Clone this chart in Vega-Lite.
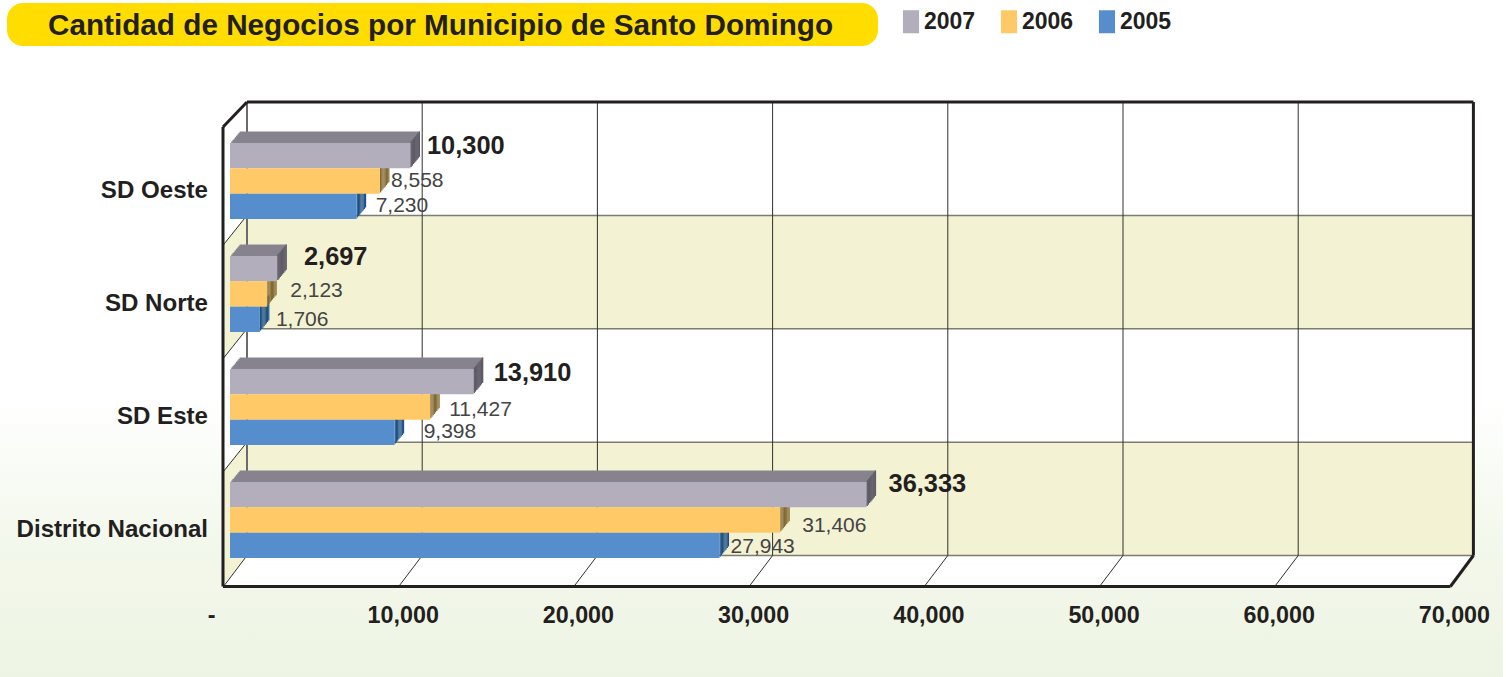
{
"$schema":"https://vega.github.io/schema/vega-lite/v6.json",
"width":1506,"height":677,"padding":0,"autosize":{"type":"none"},"background":"white",
"title":{"text":"Cantidad de Negocios por Municipio de Santo Domingo","anchor":"start","frame":"group","font":"Liberation Sans","fontWeight":"bold","fontSize":29.7,"color":"#231f20","dx":48,"dy":42,"offset":0,"zindex":1},
"config":{"view":{"stroke":null},"font":"Liberation Sans"},
"datasets":{
"bars":[
{"region":"SD Oeste","year":"2007","value":10300},{"region":"SD Oeste","year":"2006","value":8558},{"region":"SD Oeste","year":"2005","value":7230},
{"region":"SD Norte","year":"2007","value":2697},{"region":"SD Norte","year":"2006","value":2123},{"region":"SD Norte","year":"2005","value":1706},
{"region":"SD Este","year":"2007","value":13910},{"region":"SD Este","year":"2006","value":11427},{"region":"SD Este","year":"2005","value":9398},
{"region":"Distrito Nacional","year":"2007","value":36333},{"region":"Distrito Nacional","year":"2006","value":31406},{"region":"Distrito Nacional","year":"2005","value":27943}],
"rows":[{"row":0,"top":1},{"row":1,"top":2},{"row":2,"top":3},{"row":3,"top":4}],
"ticks":[{"tick":0},{"tick":10000},{"tick":20000},{"tick":30000},{"tick":40000},{"tick":50000},{"tick":60000},{"tick":70000}],
"one":[{}]
},
"resolve":{"scale":{"y":"independent"},"axis":{"x":"independent","y":"independent"}},
"layer":[
{"resolve":{"axis":{"x":"independent"}},"layer":[
{"data":{"name":"one"},"mark":{"type":"rect","color":{"gradient":"linear","x1":0,"y1":0,"x2":0,"y2":1,"stops":[{"offset":0,"color":"#ffffff"},{"offset":0.5,"color":"#f3f8ec"},{"offset":1,"color":"#eef4e3"}]}},
 "encoding":{"x":{"datum":-13128,"type":"quantitative","scale":{"domain":[-13128,72831],"range":[0,1506],"nice":false,"zero":false},"axis":null},"x2":{"datum":72660},"y":{"datum":1.37,"type":"quantitative","scale":{"domain":[0,4],"range":[555.5,102],"nice":false,"zero":false},"axis":null},"y2":{"datum":-1.072}}},
{"data":{"name":"one"},"mark":{"type":"rect","color":"#ffdd00","cornerRadius":16},"encoding":{"x":{"datum":-12728,"type":"quantitative","axis":null},"x2":{"datum":36986},"y":{"datum":4.873,"type":"quantitative","axis":null},"y2":{"datum":4.494}}},
{"data":{"name":"rows"},"mark":{"type":"rect","xOffset":17,"x2Offset":17},"encoding":{"x":{"datum":0,"type":"quantitative","axis":null},"x2":{"datum":70000},"y":{"field":"row","type":"quantitative","axis":null},"y2":{"field":"top"},"color":{"condition":{"test":"datum.row==0||datum.row==2","value":"#f3f2d3"},"value":"#ffffff"}}},
{"data":{"name":"rows"},"mark":{"type":"rect","xOffset":-7,"x2Offset":-4,"yOffset":28.1,"y2Offset":28.1},"encoding":{"x":{"datum":0,"type":"quantitative","axis":null},"x2":{"datum":0},"y":{"field":"row","type":"quantitative","axis":null},"y2":{"field":"top"},"color":{"condition":{"test":"datum.row==0||datum.row==2","value":"#f3f2d3"},"value":"#ffffff"}}},
{"data":{"name":"rows"},"mark":{"type":"rect","xOffset":-4,"x2Offset":-1,"yOffset":24.4,"y2Offset":24.4},"encoding":{"x":{"datum":0,"type":"quantitative","axis":null},"x2":{"datum":0},"y":{"field":"row","type":"quantitative","axis":null},"y2":{"field":"top"},"color":{"condition":{"test":"datum.row==0||datum.row==2","value":"#f3f2d3"},"value":"#ffffff"}}},
{"data":{"name":"rows"},"mark":{"type":"rect","xOffset":-1,"x2Offset":2,"yOffset":20.6,"y2Offset":20.6},"encoding":{"x":{"datum":0,"type":"quantitative","axis":null},"x2":{"datum":0},"y":{"field":"row","type":"quantitative","axis":null},"y2":{"field":"top"},"color":{"condition":{"test":"datum.row==0||datum.row==2","value":"#f3f2d3"},"value":"#ffffff"}}},
{"data":{"name":"rows"},"mark":{"type":"rect","xOffset":2,"x2Offset":5,"yOffset":16.9,"y2Offset":16.9},"encoding":{"x":{"datum":0,"type":"quantitative","axis":null},"x2":{"datum":0},"y":{"field":"row","type":"quantitative","axis":null},"y2":{"field":"top"},"color":{"condition":{"test":"datum.row==0||datum.row==2","value":"#f3f2d3"},"value":"#ffffff"}}},
{"data":{"name":"rows"},"mark":{"type":"rect","xOffset":5,"x2Offset":8,"yOffset":13.1,"y2Offset":13.1},"encoding":{"x":{"datum":0,"type":"quantitative","axis":null},"x2":{"datum":0},"y":{"field":"row","type":"quantitative","axis":null},"y2":{"field":"top"},"color":{"condition":{"test":"datum.row==0||datum.row==2","value":"#f3f2d3"},"value":"#ffffff"}}},
{"data":{"name":"rows"},"mark":{"type":"rect","xOffset":8,"x2Offset":11,"yOffset":9.4,"y2Offset":9.4},"encoding":{"x":{"datum":0,"type":"quantitative","axis":null},"x2":{"datum":0},"y":{"field":"row","type":"quantitative","axis":null},"y2":{"field":"top"},"color":{"condition":{"test":"datum.row==0||datum.row==2","value":"#f3f2d3"},"value":"#ffffff"}}},
{"data":{"name":"rows"},"mark":{"type":"rect","xOffset":11,"x2Offset":14,"yOffset":5.6,"y2Offset":5.6},"encoding":{"x":{"datum":0,"type":"quantitative","axis":null},"x2":{"datum":0},"y":{"field":"row","type":"quantitative","axis":null},"y2":{"field":"top"},"color":{"condition":{"test":"datum.row==0||datum.row==2","value":"#f3f2d3"},"value":"#ffffff"}}},
{"data":{"name":"rows"},"mark":{"type":"rect","xOffset":14,"x2Offset":17,"yOffset":1.9,"y2Offset":1.9},"encoding":{"x":{"datum":0,"type":"quantitative","axis":null},"x2":{"datum":0},"y":{"field":"row","type":"quantitative","axis":null},"y2":{"field":"top"},"color":{"condition":{"test":"datum.row==0||datum.row==2","value":"#f3f2d3"},"value":"#ffffff"}}},
{"data":{"name":"one"},"mark":{"type":"rect","color":"#ffffff","xOffset":15.5,"x2Offset":15.5,"yOffset":0,"y2Offset":3.9},"encoding":{"x":{"datum":0,"type":"quantitative","axis":null},"x2":{"datum":70000},"y":{"datum":0,"type":"quantitative","axis":null},"y2":{"datum":0}}},
{"data":{"name":"one"},"mark":{"type":"rect","color":"#ffffff","xOffset":12.6,"x2Offset":12.6,"yOffset":3.9,"y2Offset":7.8},"encoding":{"x":{"datum":0,"type":"quantitative","axis":null},"x2":{"datum":70000},"y":{"datum":0,"type":"quantitative","axis":null},"y2":{"datum":0}}},
{"data":{"name":"one"},"mark":{"type":"rect","color":"#ffffff","xOffset":9.7,"x2Offset":9.7,"yOffset":7.8,"y2Offset":11.6},"encoding":{"x":{"datum":0,"type":"quantitative","axis":null},"x2":{"datum":70000},"y":{"datum":0,"type":"quantitative","axis":null},"y2":{"datum":0}}},
{"data":{"name":"one"},"mark":{"type":"rect","color":"#ffffff","xOffset":6.7,"x2Offset":6.7,"yOffset":11.6,"y2Offset":15.5},"encoding":{"x":{"datum":0,"type":"quantitative","axis":null},"x2":{"datum":70000},"y":{"datum":0,"type":"quantitative","axis":null},"y2":{"datum":0}}},
{"data":{"name":"one"},"mark":{"type":"rect","color":"#ffffff","xOffset":3.8,"x2Offset":3.8,"yOffset":15.5,"y2Offset":19.4},"encoding":{"x":{"datum":0,"type":"quantitative","axis":null},"x2":{"datum":70000},"y":{"datum":0,"type":"quantitative","axis":null},"y2":{"datum":0}}},
{"data":{"name":"one"},"mark":{"type":"rect","color":"#ffffff","xOffset":0.9,"x2Offset":0.9,"yOffset":19.4,"y2Offset":23.3},"encoding":{"x":{"datum":0,"type":"quantitative","axis":null},"x2":{"datum":70000},"y":{"datum":0,"type":"quantitative","axis":null},"y2":{"datum":0}}},
{"data":{"name":"one"},"mark":{"type":"rect","color":"#ffffff","xOffset":-2.1,"x2Offset":-2.1,"yOffset":23.3,"y2Offset":27.1},"encoding":{"x":{"datum":0,"type":"quantitative","axis":null},"x2":{"datum":70000},"y":{"datum":0,"type":"quantitative","axis":null},"y2":{"datum":0}}},
{"data":{"name":"one"},"mark":{"type":"rect","color":"#ffffff","xOffset":-5,"x2Offset":-5,"yOffset":27.1,"y2Offset":31},"encoding":{"x":{"datum":0,"type":"quantitative","axis":null},"x2":{"datum":70000},"y":{"datum":0,"type":"quantitative","axis":null},"y2":{"datum":0}}},
{"data":{"name":"rows"},"mark":{"type":"rule","color":"#7d7c72","strokeWidth":1.5,"xOffset":17,"x2Offset":17},"encoding":{"x":{"datum":0,"type":"quantitative","axis":null},"x2":{"datum":70000},"y":{"field":"row","type":"quantitative","axis":null}}},
{"data":{"name":"ticks"},"mark":{"type":"rule","color":"#33302f","strokeWidth":1,"xOffset":17},"encoding":{"x":{"field":"tick","type":"quantitative","axis":{"values":[0,10000,20000,30000,40000,50000,60000,70000],"orient":"bottom","offset":-73,"title":null,"domain":false,"ticks":false,"grid":false,"labelFont":"Liberation Sans","labelFontWeight":"bold","labelFontSize":23.3,"labelColor":"#231f20","labelPadding":0,"labelOffset":{"condition":{"test":"datum.value==0","value":-19},"value":-2.5},"labelOverlap":false,"labelFlush":false,"labelBaseline":"top","zindex":1,"labelExpr":"datum.value==0?'-':format(datum.value,',')"}},"y":{"datum":0,"type":"quantitative","axis":null},"y2":{"datum":4}}},
{"data":{"name":"one"},"mark":{"type":"rule","color":"#6b6b6b","strokeWidth":2,"xOffset":17},"encoding":{"x":{"datum":0,"type":"quantitative","axis":null},"y":{"datum":0,"type":"quantitative","axis":null},"y2":{"datum":4}}},
{"data":{"name":"ticks"},"mark":{"type":"rule","color":"#33302f","strokeWidth":1,"xOffset":-6.5,"x2Offset":17,"yOffset":31,"y2Offset":0},"encoding":{"x":{"field":"tick","type":"quantitative","axis":null},"x2":{"field":"tick"},"y":{"datum":0,"type":"quantitative","axis":null},"y2":{"datum":0}}},
{"data":{"name":"rows"},"mark":{"type":"rule","color":"#33302f","strokeWidth":1,"xOffset":-7,"x2Offset":17,"yOffset":30,"y2Offset":0},"transform":[{"filter":"datum.row>0"}],"encoding":{"x":{"datum":0,"type":"quantitative","axis":null},"x2":{"datum":0},"y":{"field":"row","type":"quantitative","axis":null},"y2":{"field":"row"}}},
{"data":{"name":"one"},"mark":{"type":"rule","color":"#231f20","strokeWidth":3,"xOffset":-7,"x2Offset":17,"yOffset":25,"y2Offset":0},"encoding":{"x":{"datum":0,"type":"quantitative","axis":null},"x2":{"datum":0},"y":{"datum":4,"type":"quantitative","axis":null},"y2":{"datum":4}}},
{"data":{"name":"one"},"mark":{"type":"rule","color":"#231f20","strokeWidth":3,"xOffset":-7,"yOffset":25,"y2Offset":31},"encoding":{"x":{"datum":0,"type":"quantitative","axis":null},"y":{"datum":4,"type":"quantitative","axis":null},"y2":{"datum":0}}},
{"data":{"name":"one"},"mark":{"type":"rule","color":"#231f20","strokeWidth":3,"xOffset":-7,"x2Offset":-6,"yOffset":31,"y2Offset":31},"encoding":{"x":{"datum":0,"type":"quantitative","axis":null},"x2":{"datum":70000},"y":{"datum":0,"type":"quantitative","axis":null},"y2":{"datum":0}}},
{"data":{"name":"one"},"mark":{"type":"rule","color":"#231f20","strokeWidth":3,"xOffset":17,"x2Offset":17},"encoding":{"x":{"datum":0,"type":"quantitative","axis":null},"x2":{"datum":70000},"y":{"datum":4,"type":"quantitative","axis":null},"y2":{"datum":4}}},
{"data":{"name":"one"},"mark":{"type":"rule","color":"#231f20","strokeWidth":3,"xOffset":17},"encoding":{"x":{"datum":70000,"type":"quantitative","axis":null},"y":{"datum":0,"type":"quantitative","axis":null},"y2":{"datum":4}}},
{"data":{"name":"one"},"mark":{"type":"rule","color":"#231f20","strokeWidth":3,"xOffset":-6,"x2Offset":17,"yOffset":31,"y2Offset":0},"encoding":{"x":{"datum":70000,"type":"quantitative","axis":null},"x2":{"datum":70000},"y":{"datum":0,"type":"quantitative","axis":null},"y2":{"datum":0}}}
]},
{"data":{"name":"bars"},
 "resolve":{"scale":{"y":"independent"},"axis":{"y":"independent","x":"independent"}},
 "encoding":{
  "y":{"field":"region","type":"nominal","sort":null,"scale":{"domain":["SD Oeste","SD Norte","SD Este","Distrito Nacional"],"range":[124.5,576.5],"paddingInner":0,"paddingOuter":0},"axis":null},
  "yOffset":{"field":"year","type":"nominal","sort":null,"scale":{"domain":["2007","2006","2005"],"range":[0,113],"paddingInner":0,"paddingOuter":0.73}}
 },
 "layer":[
 {"transform":[{"filter":"datum.year=='2007'"}],"mark":{"type":"bar","color":"#87838e","xOffset":9.5,"x2Offset":9.5},"encoding":{"y":{"field":"region","type":"nominal","sort":null,"scale":{"domain":["SD Oeste","SD Norte","SD Este","Distrito Nacional"],"range":[113,565],"paddingInner":0,"paddingOuter":0},"axis":null},"x":{"field":"value","type":"quantitative","stack":null,"axis":null},"x2":{"datum":0}}},
 {"transform":[{"filter":"datum.year=='2007'"}],"mark":{"type":"bar","color":"#87838e","xOffset":8.3,"x2Offset":8.3},"encoding":{"y":{"field":"region","type":"nominal","sort":null,"scale":{"domain":["SD Oeste","SD Norte","SD Este","Distrito Nacional"],"range":[114.4,566.4],"paddingInner":0,"paddingOuter":0},"axis":null},"x":{"field":"value","type":"quantitative","stack":null,"axis":null},"x2":{"datum":0}}},
 {"transform":[{"filter":"datum.year=='2007'"}],"mark":{"type":"bar","color":"#87838e","xOffset":7.1,"x2Offset":7.1},"encoding":{"y":{"field":"region","type":"nominal","sort":null,"scale":{"domain":["SD Oeste","SD Norte","SD Este","Distrito Nacional"],"range":[115.9,567.9],"paddingInner":0,"paddingOuter":0},"axis":null},"x":{"field":"value","type":"quantitative","stack":null,"axis":null},"x2":{"datum":0}}},
 {"transform":[{"filter":"datum.year=='2007'"}],"mark":{"type":"bar","color":"#87838e","xOffset":5.9,"x2Offset":5.9},"encoding":{"y":{"field":"region","type":"nominal","sort":null,"scale":{"domain":["SD Oeste","SD Norte","SD Este","Distrito Nacional"],"range":[117.3,569.3],"paddingInner":0,"paddingOuter":0},"axis":null},"x":{"field":"value","type":"quantitative","stack":null,"axis":null},"x2":{"datum":0}}},
 {"transform":[{"filter":"datum.year=='2007'"}],"mark":{"type":"bar","color":"#87838e","xOffset":4.8,"x2Offset":4.8},"encoding":{"y":{"field":"region","type":"nominal","sort":null,"scale":{"domain":["SD Oeste","SD Norte","SD Este","Distrito Nacional"],"range":[118.7,570.7],"paddingInner":0,"paddingOuter":0},"axis":null},"x":{"field":"value","type":"quantitative","stack":null,"axis":null},"x2":{"datum":0}}},
 {"transform":[{"filter":"datum.year=='2007'"}],"mark":{"type":"bar","color":"#87838e","xOffset":3.6,"x2Offset":3.6},"encoding":{"y":{"field":"region","type":"nominal","sort":null,"scale":{"domain":["SD Oeste","SD Norte","SD Este","Distrito Nacional"],"range":[120.2,572.2],"paddingInner":0,"paddingOuter":0},"axis":null},"x":{"field":"value","type":"quantitative","stack":null,"axis":null},"x2":{"datum":0}}},
 {"transform":[{"filter":"datum.year=='2007'"}],"mark":{"type":"bar","color":"#87838e","xOffset":2.4,"x2Offset":2.4},"encoding":{"y":{"field":"region","type":"nominal","sort":null,"scale":{"domain":["SD Oeste","SD Norte","SD Este","Distrito Nacional"],"range":[121.6,573.6],"paddingInner":0,"paddingOuter":0},"axis":null},"x":{"field":"value","type":"quantitative","stack":null,"axis":null},"x2":{"datum":0}}},
 {"transform":[{"filter":"datum.year=='2007'"}],"mark":{"type":"bar","color":"#87838e","xOffset":1.2,"x2Offset":1.2},"encoding":{"y":{"field":"region","type":"nominal","sort":null,"scale":{"domain":["SD Oeste","SD Norte","SD Este","Distrito Nacional"],"range":[123.1,575.1],"paddingInner":0,"paddingOuter":0},"axis":null},"x":{"field":"value","type":"quantitative","stack":null,"axis":null},"x2":{"datum":0}}},
 {"mark":{"type":"bar","xOffset":8.3,"x2Offset":9.5},"encoding":{"y":{"field":"region","type":"nominal","sort":null,"scale":{"domain":["SD Oeste","SD Norte","SD Este","Distrito Nacional"],"range":[113,565],"paddingInner":0,"paddingOuter":0},"axis":null},"x":{"field":"value","type":"quantitative","stack":null,"axis":null},"x2":{"field":"value"},"color":{"condition":[{"test":"datum.year=='2007'","value":"#5e5b66"},{"test":"datum.year=='2006'","value":"#836a33"}],"value":"#1d5184"}}},
 {"mark":{"type":"bar","xOffset":7.1,"x2Offset":8.3},"encoding":{"y":{"field":"region","type":"nominal","sort":null,"scale":{"domain":["SD Oeste","SD Norte","SD Este","Distrito Nacional"],"range":[114.4,566.4],"paddingInner":0,"paddingOuter":0},"axis":null},"x":{"field":"value","type":"quantitative","stack":null,"axis":null},"x2":{"field":"value"},"color":{"condition":[{"test":"datum.year=='2007'","value":"#5e5b66"},{"test":"datum.year=='2006'","value":"#836a33"}],"value":"#1d5184"}}},
 {"mark":{"type":"bar","xOffset":5.9,"x2Offset":7.1},"encoding":{"y":{"field":"region","type":"nominal","sort":null,"scale":{"domain":["SD Oeste","SD Norte","SD Este","Distrito Nacional"],"range":[115.9,567.9],"paddingInner":0,"paddingOuter":0},"axis":null},"x":{"field":"value","type":"quantitative","stack":null,"axis":null},"x2":{"field":"value"},"color":{"condition":[{"test":"datum.year=='2007'","value":"#5e5b66"},{"test":"datum.year=='2006'","value":"#836a33"}],"value":"#1d5184"}}},
 {"mark":{"type":"bar","xOffset":4.8,"x2Offset":5.9},"encoding":{"y":{"field":"region","type":"nominal","sort":null,"scale":{"domain":["SD Oeste","SD Norte","SD Este","Distrito Nacional"],"range":[117.3,569.3],"paddingInner":0,"paddingOuter":0},"axis":null},"x":{"field":"value","type":"quantitative","stack":null,"axis":null},"x2":{"field":"value"},"color":{"condition":[{"test":"datum.year=='2007'","value":"#5e5b66"},{"test":"datum.year=='2006'","value":"#836a33"}],"value":"#1d5184"}}},
 {"mark":{"type":"bar","xOffset":3.6,"x2Offset":4.8},"encoding":{"y":{"field":"region","type":"nominal","sort":null,"scale":{"domain":["SD Oeste","SD Norte","SD Este","Distrito Nacional"],"range":[118.7,570.7],"paddingInner":0,"paddingOuter":0},"axis":null},"x":{"field":"value","type":"quantitative","stack":null,"axis":null},"x2":{"field":"value"},"color":{"condition":[{"test":"datum.year=='2007'","value":"#5e5b66"},{"test":"datum.year=='2006'","value":"#836a33"}],"value":"#1d5184"}}},
 {"mark":{"type":"bar","xOffset":2.4,"x2Offset":3.6},"encoding":{"y":{"field":"region","type":"nominal","sort":null,"scale":{"domain":["SD Oeste","SD Norte","SD Este","Distrito Nacional"],"range":[120.2,572.2],"paddingInner":0,"paddingOuter":0},"axis":null},"x":{"field":"value","type":"quantitative","stack":null,"axis":null},"x2":{"field":"value"},"color":{"condition":[{"test":"datum.year=='2007'","value":"#5e5b66"},{"test":"datum.year=='2006'","value":"#836a33"}],"value":"#1d5184"}}},
 {"mark":{"type":"bar","xOffset":1.2,"x2Offset":2.4},"encoding":{"y":{"field":"region","type":"nominal","sort":null,"scale":{"domain":["SD Oeste","SD Norte","SD Este","Distrito Nacional"],"range":[121.6,573.6],"paddingInner":0,"paddingOuter":0},"axis":null},"x":{"field":"value","type":"quantitative","stack":null,"axis":null},"x2":{"field":"value"},"color":{"condition":[{"test":"datum.year=='2007'","value":"#5e5b66"},{"test":"datum.year=='2006'","value":"#836a33"}],"value":"#1d5184"}}},
 {"mark":{"type":"bar","xOffset":0,"x2Offset":1.2},"encoding":{"y":{"field":"region","type":"nominal","sort":null,"scale":{"domain":["SD Oeste","SD Norte","SD Este","Distrito Nacional"],"range":[123.1,575.1],"paddingInner":0,"paddingOuter":0},"axis":null},"x":{"field":"value","type":"quantitative","stack":null,"axis":null},"x2":{"field":"value"},"color":{"condition":[{"test":"datum.year=='2007'","value":"#5e5b66"},{"test":"datum.year=='2006'","value":"#836a33"}],"value":"#1d5184"}}},
 {"mark":{"type":"bar"},"encoding":{
   "x":{"field":"value","type":"quantitative","stack":null,"axis":null},"x2":{"datum":0},
   "y":{"field":"region","type":"nominal","sort":null,"scale":{"domain":["SD Oeste","SD Norte","SD Este","Distrito Nacional"],"range":[124.5,576.5],"paddingInner":0,"paddingOuter":0},"axis":{"orient":"left","offset":-207.5,"title":null,"domain":false,"ticks":false,"labelPadding":0,"labelOffset":9.5,"labelFont":"Liberation Sans","labelFontWeight":"bold","labelFontSize":24.1,"labelColor":"#231f20","labelLimit":300,"zindex":1}},
   "color":{"field":"year","type":"nominal","sort":null,"scale":{"domain":["2007","2006","2005"],"range":["#b2aebc","#fec966","#568ecd"]},
    "legend":{"orient":"none","legendX":899.5,"legendY":10,"direction":"horizontal","title":null,"symbolType":"M-0.7,-1H0.7V1H-0.7Z","symbolSize":529,"symbolStrokeWidth":0,"labelOffset":1.5,"columnPadding":22,"labelFont":"Liberation Sans","labelFontWeight":"bold","labelFontSize":23,"labelColor":"#231f20","columns":3}}}},
 {"transform":[{"filter":"datum.region=='SD Oeste'&&datum.year=='2007'"}],"mark":{"type":"text","align":"left","baseline":"middle","fontWeight":"bold","fontSize":25.4,"color":"#231f20","dx":16.5,"dy":-10},"encoding":{"x":{"field":"value","type":"quantitative","axis":null},"text":{"field":"value","format":","}}},
 {"transform":[{"filter":"datum.region=='SD Oeste'&&datum.year=='2006'"}],"mark":{"type":"text","align":"left","baseline":"middle","fontSize":21,"color":"#444444","dx":11,"dy":0},"encoding":{"x":{"field":"value","type":"quantitative","axis":null},"text":{"field":"value","format":","}}},
 {"transform":[{"filter":"datum.region=='SD Oeste'&&datum.year=='2005'"}],"mark":{"type":"text","align":"left","baseline":"middle","fontSize":21,"color":"#444444","dx":19,"dy":0},"encoding":{"x":{"field":"value","type":"quantitative","axis":null},"text":{"field":"value","format":","}}},
 {"transform":[{"filter":"datum.region=='SD Norte'&&datum.year=='2007'"}],"mark":{"type":"text","align":"left","baseline":"middle","fontWeight":"bold","fontSize":25.4,"color":"#231f20","dx":26.7,"dy":-11.7},"encoding":{"x":{"field":"value","type":"quantitative","axis":null},"text":{"field":"value","format":","}}},
 {"transform":[{"filter":"datum.region=='SD Norte'&&datum.year=='2006'"}],"mark":{"type":"text","align":"left","baseline":"middle","fontSize":21,"color":"#444444","dx":23,"dy":-3},"encoding":{"x":{"field":"value","type":"quantitative","axis":null},"text":{"field":"value","format":","}}},
 {"transform":[{"filter":"datum.region=='SD Norte'&&datum.year=='2005'"}],"mark":{"type":"text","align":"left","baseline":"middle","fontSize":21,"color":"#444444","dx":16,"dy":1},"encoding":{"x":{"field":"value","type":"quantitative","axis":null},"text":{"field":"value","format":","}}},
 {"transform":[{"filter":"datum.region=='SD Este'&&datum.year=='2007'"}],"mark":{"type":"text","align":"left","baseline":"middle","fontWeight":"bold","fontSize":25.4,"color":"#231f20","dx":20,"dy":-9},"encoding":{"x":{"field":"value","type":"quantitative","axis":null},"text":{"field":"value","format":","}}},
 {"transform":[{"filter":"datum.region=='SD Este'&&datum.year=='2006'"}],"mark":{"type":"text","align":"left","baseline":"middle","fontSize":21,"color":"#444444","dx":19,"dy":3},"encoding":{"x":{"field":"value","type":"quantitative","axis":null},"text":{"field":"value","format":","}}},
 {"transform":[{"filter":"datum.region=='SD Este'&&datum.year=='2005'"}],"mark":{"type":"text","align":"left","baseline":"middle","fontSize":21,"color":"#444444","dx":29,"dy":0},"encoding":{"x":{"field":"value","type":"quantitative","axis":null},"text":{"field":"value","format":","}}},
 {"transform":[{"filter":"datum.region=='Distrito Nacional'&&datum.year=='2007'"}],"mark":{"type":"text","align":"left","baseline":"middle","fontWeight":"bold","fontSize":25.4,"color":"#231f20","dx":22,"dy":-11},"encoding":{"x":{"field":"value","type":"quantitative","axis":null},"text":{"field":"value","format":","}}},
 {"transform":[{"filter":"datum.region=='Distrito Nacional'&&datum.year=='2006'"}],"mark":{"type":"text","align":"left","baseline":"middle","fontSize":21,"color":"#444444","dx":22,"dy":6},"encoding":{"x":{"field":"value","type":"quantitative","axis":null},"text":{"field":"value","format":","}}},
 {"transform":[{"filter":"datum.region=='Distrito Nacional'&&datum.year=='2005'"}],"mark":{"type":"text","align":"left","baseline":"middle","fontSize":21,"color":"#444444","dx":11,"dy":2},"encoding":{"x":{"field":"value","type":"quantitative","axis":null},"text":{"field":"value","format":","}}}
 ]}
]}
